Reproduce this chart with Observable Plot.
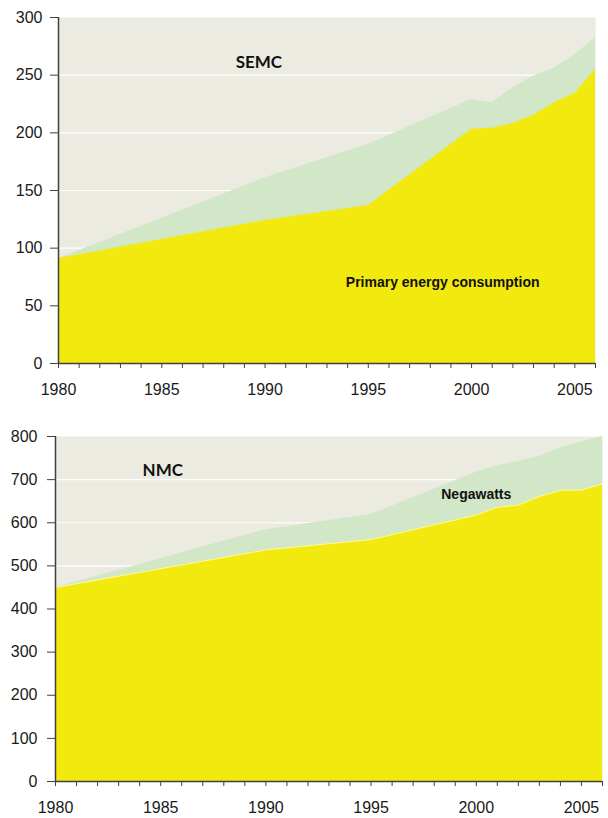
<!DOCTYPE html>
<html><head><meta charset="utf-8">
<script src="https://cdn.jsdelivr.net/npm/d3@7"></script>
<script src="https://cdn.jsdelivr.net/npm/@observablehq/plot@0.6"></script>
<style>body{margin:0;background:#fff;} #c svg{display:block;}</style>
</head><body><div id="c"></div>
<script>
// SEMC (top panel)
const semcYears = [1980, 1990, 1995, 2000, 2001, 2002, 2003, 2004, 2005, 2006];
const semcConsumption = [91, 124, 137, 203, 204, 208, 215, 226, 234, 255];
const semcTotal = [91, 161, 190, 229, 226, 239, 249, 256, 268, 282];
// NMC (bottom panel)
const nmcYears = [1980, 1990, 1995, 2000, 2001, 2002, 2003, 2004, 2005, 2006];
const nmcConsumption = [450, 537, 561, 618, 636, 641, 661, 675, 676, 690];
const nmcTotal = [450, 584, 619, 717, 733, 742, 754, 774, 787, 800];
const xLabels = [1980, 1985, 1990, 1995, 2000, 2005];
const xTicks = d3.range(1980, 2007);
const semcYTicks = [0, 50, 100, 150, 200, 250, 300];
const nmcYTicks = [0, 100, 200, 300, 400, 500, 600, 700, 800];

function chart(o) {
  const data = o.years.map((y, i) => ({year: y, consumption: o.consumption[i], total: o.total[i]}));
  const grid = o.yTicks.filter(v => v > 0 && v < o.yMax);
  const marks = [
    Plot.frame({fill: "#ECEBE1", stroke: null}),
    Plot.gridY(grid, {stroke: "#fff", strokeOpacity: 1, strokeWidth: 1.2}),
    Plot.areaY(data, {x: "year", y: "total", fill: "#D2E6C8"}),
    Plot.areaY(data, {x: "year", y: "consumption", fill: "#F2EA0E"}),
  ];
  if (o.edge) marks.push(Plot.lineY(data, {x: "year", y: "consumption", stroke: "#fff", strokeOpacity: 0.7, strokeWidth: 1}));
  marks.push(
    Plot.axisY({ticks: o.yTicks, tickSize: 8, tickPadding: o.yPad, stroke: "#404040", fill: "#1a1a1a", label: null, tickFormat: d => String(d)}),
    Plot.axisX({ticks: xTicks, tickSize: 5, tickFormat: () => "", label: null, stroke: "#404040"}),
    Plot.axisX({ticks: xLabels, tickSize: 0, tickPadding: 20, fill: "#1a1a1a", label: null, tickFormat: d => String(d)}),
    Plot.ruleX([1980], {stroke: "#404040", strokeWidth: 1.5}),
    Plot.ruleY([0], {stroke: "#404040", strokeWidth: 1.5}),
    Plot.text([o.title], {x: o.titleX, y: o.titleY, text: d => d, fontFamily: "Lato, 'Open Sans', sans-serif", fontWeight: "bold", fontSize: 17, fill: "#111"}),
    Plot.text([o.label], {x: o.labelX, y: o.labelY, text: d => d, fontFamily: "'Liberation Sans', Arial, sans-serif", fontWeight: "bold", fontSize: 14, fill: "#111"})
  );
  return Plot.plot({
    width: 608, height: o.height,
    marginTop: o.marginTop, marginBottom: o.marginBottom, marginLeft: o.marginLeft, marginRight: o.marginRight,
    x: {domain: [1980, 2006], label: null},
    y: {domain: [0, o.yMax], label: null},
    style: {fontFamily: "'Liberation Sans', Arial, sans-serif", fontSize: "16px", background: "transparent", overflow: "visible"},
    marks
  });
}

const c = document.getElementById("c");
c.append(chart({
  years: semcYears, consumption: semcConsumption, total: semcTotal, yMax: 300, yTicks: semcYTicks,
  height: 410, marginTop: 17, marginBottom: 47, marginLeft: 58, marginRight: 13, yPad: 8,
  title: "SEMC", titleX: 1989.7, titleY: 261,
  label: "Primary energy consumption", labelX: 1998.6, labelY: 70, edge: false
}));
c.append(chart({
  years: nmcYears, consumption: nmcConsumption, total: nmcTotal, yMax: 800, yTicks: nmcYTicks,
  height: 408, marginTop: 26, marginBottom: 37, marginLeft: 55, marginRight: 6, yPad: 10,
  title: "NMC", titleX: 1985.1, titleY: 721,
  label: "Negawatts", labelX: 2000, labelY: 665, edge: true
}));
</script>
</body></html>
